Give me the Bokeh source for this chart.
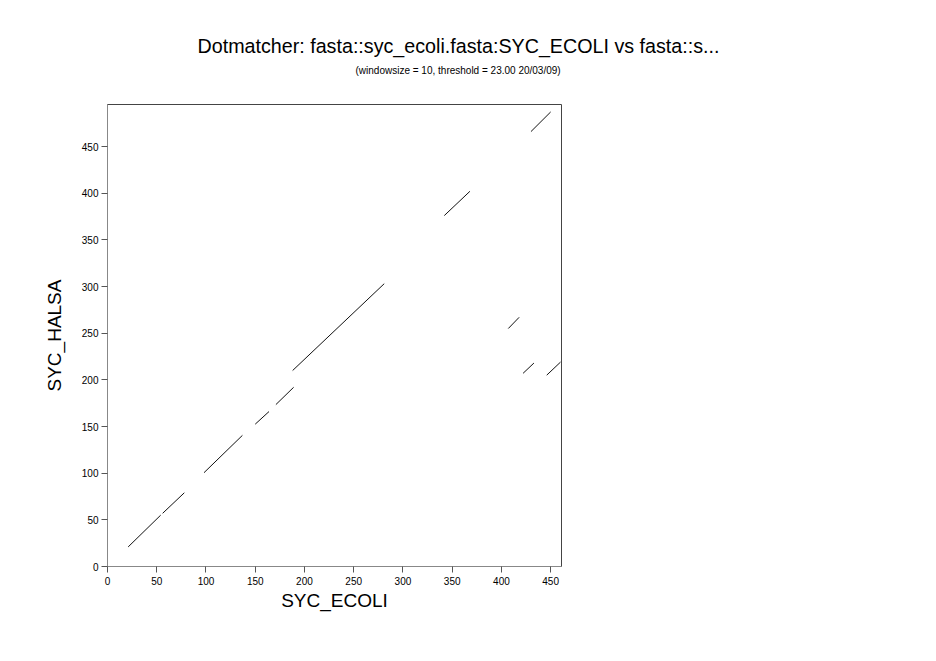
from bokeh.plotting import figure
from bokeh.models import Range1d, Title, ColumnDataSource, FixedTicker
from bokeh.embed import file_html
from bokeh.resources import INLINE

# Match segments (SYC_ECOLI position vs SYC_HALSA position)
seg_x0 = [21, 56, 98, 150, 171, 188, 342, 430, 407, 422, 446]
seg_y0 = [21, 57, 100.5, 152.5, 173.5, 210, 376, 466, 255, 207, 205]
seg_x1 = [54, 78, 137, 164, 189, 281, 368, 450, 418, 433, 460]
seg_y1 = [55, 79, 140.5, 166, 192, 303, 402, 487, 267, 218, 219]

x_len = 461
y_len = 495
tick_values = [0, 50, 100, 150, 200, 250, 300, 350, 400, 450]

title_text = "Dotmatcher: fasta::syc_ecoli.fasta:SYC_ECOLI vs fasta::s..."
subtitle_text = "(windowsize = 10, threshold = 23.00  20/03/09)"

FONT = "Liberation Sans"

p = figure(frame_width=454, frame_height=462,
           min_border_left=107, min_border_top=104,
           min_border_right=360, min_border_bottom=87,
           x_range=Range1d(0, x_len), y_range=Range1d(0, y_len),
           output_backend="svg", toolbar_location=None, tools="")

src = ColumnDataSource(dict(x0=seg_x0, y0=seg_y0, x1=seg_x1, y1=seg_y1))
p.segment("x0", "y0", "x1", "y1", source=src, line_color="#111111", line_width=1)

p.grid.visible = False
p.outline_line_color = "#444444"
p.outline_line_width = 1
p.background_fill_color = "white"
p.border_fill_color = "white"

for ax in (p.xaxis[0], p.yaxis[0]):
    ax.ticker = FixedTicker(ticks=tick_values)
    ax.axis_line_color = "#888888"
    ax.axis_line_width = 1
    ax.major_tick_line_color = "#555555"
    ax.major_tick_out = 6
    ax.major_tick_in = 0
    ax.minor_tick_line_color = None
    ax.major_label_text_font = FONT
    ax.major_label_text_font_size = "10px"
    ax.major_label_text_color = "black"
    ax.axis_label_text_font = FONT
    ax.axis_label_text_font_size = "19px"
    ax.axis_label_text_font_style = "normal"
    ax.axis_label_text_color = "black"

p.xaxis.axis_label = "SYC_ECOLI"
p.yaxis.axis_label = "SYC_HALSA"
p.xaxis.major_label_standoff = 4
p.yaxis.major_label_standoff = 3
p.xaxis.axis_label_standoff = 2
p.yaxis.axis_label_standoff = 14
p.yaxis.major_label_orientation = "horizontal"

p.title.text = title_text
p.title.text_font = FONT
p.title.text_font_size = "19.7px"
p.title.text_font_style = "normal"
p.title.text_color = "black"
p.title.align = "left"
p.title.offset = 90
p.title.standoff = 7

# spacer between the frame and the subtitle
spacer = Title(text=" ", text_font=FONT, text_font_size="1px", standoff=24)
p.add_layout(spacer, "above")

sub = Title(text=subtitle_text, text_font=FONT, text_font_size="10px",
            text_font_style="normal", text_color="black", align="left",
            offset=248, standoff=4)
p.add_layout(sub, "above")

open("out.html", "w").write(file_html(p, INLINE))
